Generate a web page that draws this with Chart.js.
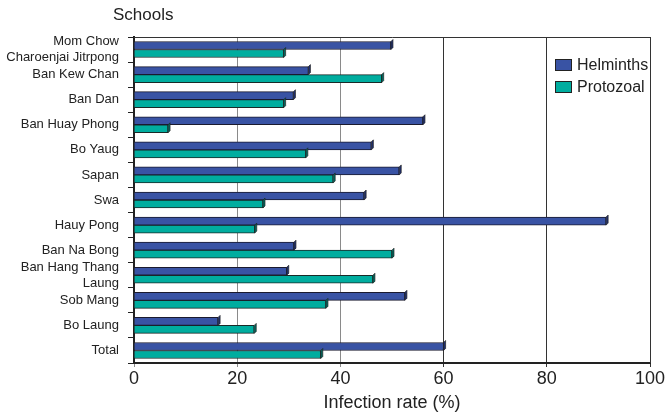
<!DOCTYPE html>
<html>
<head>
<meta charset="utf-8">
<script src="https://cdn.jsdelivr.net/npm/chart.js@4"></script>
<style>
  html, body { margin: 0; padding: 0; background: #fff; }
  #wrap { width: 670px; height: 416px; position: relative; }
</style>
</head>
<body>
<div id="wrap"><canvas id="chart"></canvas></div>
<script>
// ── data ────────────────────────────────────────────────────────────────
const schools = [
  ['Mom Chow', 'Charoenjai Jitrpong'], 'Ban Kew Chan', 'Ban Dan', 'Ban Huay Phong',
  'Bo Yaug', 'Sapan', 'Swa', 'Hauy Pong', 'Ban Na Bong', ['Ban Hang Thang', 'Laung'],
  'Sob Mang', 'Bo Laung', 'Total'
];
const helminths = [49.8, 33.8, 30.9, 56, 46, 51.4, 44.6, 91.5, 31, 29.6, 52.5, 16.3, 60];
const protozoal = [29, 48, 29, 6.6, 33.3, 38.6, 25, 23.4, 50, 46.3, 37.2, 23.3, 36.2];
const xTicks = [0, 20, 40, 60, 80, 100];

const BLUE = '#3953a4', BLUE_DARK = '#1f2f6e';
const TEAL = '#00ad9f', TEAL_DARK = '#006b62';
const FONT = '"Liberation Sans", Arial, sans-serif';

// ── plugins: frame, 3d caps, title, legend ──────────────────────────────
const extras = {
  id: 'extras',
  afterDatasetsDraw(chart) {
    const ctx = chart.ctx;
    chart.data.datasets.forEach((ds, di) => {
      const dark = di === 0 ? BLUE_DARK : TEAL_DARK;
      chart.getDatasetMeta(di).data.forEach(bar => {
        const top = bar.y - bar.height / 2, bot = bar.y + bar.height / 2;
        const d = 2;
        ctx.save();
        ctx.fillStyle = dark;
        ctx.strokeStyle = '#222';
        ctx.lineWidth = 0.7;
        ctx.beginPath();
        ctx.moveTo(bar.x, top);
        ctx.lineTo(bar.x + d, top - d);
        ctx.lineTo(bar.x + d, bot - d);
        ctx.lineTo(bar.x, bot);
        ctx.closePath();
        ctx.fill(); ctx.stroke();
        ctx.restore();
      });
    });
  },
  afterDraw(chart) {
    const ctx = chart.ctx, a = chart.chartArea;
    ctx.save();
    ctx.strokeStyle = '#333';
    ctx.lineWidth = 1;
    ctx.beginPath();
    ctx.moveTo(a.left, a.top + 0.5);
    ctx.lineTo(a.right + 0.5, a.top + 0.5);
    ctx.lineTo(a.right + 0.5, a.bottom);
    ctx.stroke();

    ctx.fillStyle = '#222';
    ctx.font = '17px ' + FONT;
    ctx.textBaseline = 'middle';
    ctx.textAlign = 'left';
    ctx.fillText('Schools', 113, 15);

    // legend
    ctx.font = '16px ' + FONT;
    chart.data.datasets.forEach((ds, i) => {
      const y = 59 + i * 22;
      ctx.fillStyle = ds.backgroundColor;
      ctx.fillRect(555, y, 16, 11);
      ctx.strokeStyle = '#222';
      ctx.strokeRect(555.5, y + 0.5, 16, 11);
      ctx.fillStyle = '#222';
      ctx.fillText(ds.label, 577, y + 6.5);
    });
    ctx.restore();
  }
};

new Chart(document.getElementById('chart'), {
  type: 'bar',
  data: {
    labels: schools,
    datasets: [
      { label: 'Helminths', data: helminths, backgroundColor: BLUE, borderColor: '#1a1a2e', borderWidth: 1, barThickness: 8 },
      { label: 'Protozoal', data: protozoal, backgroundColor: TEAL, borderColor: '#1a2a28', borderWidth: 1, barThickness: 8 }
    ]
  },
  options: {
    indexAxis: 'y',
    responsive: true,
    maintainAspectRatio: false,
    animation: false,
    layout: { padding: { top: 37, right: 20, left: 0, bottom: 0 } },
    plugins: { legend: { display: false }, tooltip: { enabled: false } },
    scales: {
      x: {
        min: 0, max: 100,
        afterBuildTicks: s => { s.ticks = xTicks.map(v => ({ value: v })); },
        afterFit: s => { s.height = 53; },
        border: { color: '#222', width: 2 },
        grid: {
          color: c => (c.tick && c.tick.value <= 40) ? '#8a8a8a' : '#333',
          tickLength: 4
        },
        ticks: { color: '#222', font: { family: FONT, size: 18 }, padding: 1, maxRotation: 0 },
        title: { display: true, text: 'Infection rate (%)', color: '#222', font: { family: FONT, size: 18 }, padding: { top: 0, bottom: 2 } }
      },
      y: {
        afterFit: s => { s.width = 134; },
        border: { color: '#222', width: 2 },
        grid: { offset: true, drawOnChartArea: false, tickLength: 6, color: '#222' },
        ticks: { color: '#222', font: { family: FONT, size: 13 }, padding: 9, autoSkip: false }
      }
    }
  },
  plugins: [extras]
});
</script>
</body>
</html>
